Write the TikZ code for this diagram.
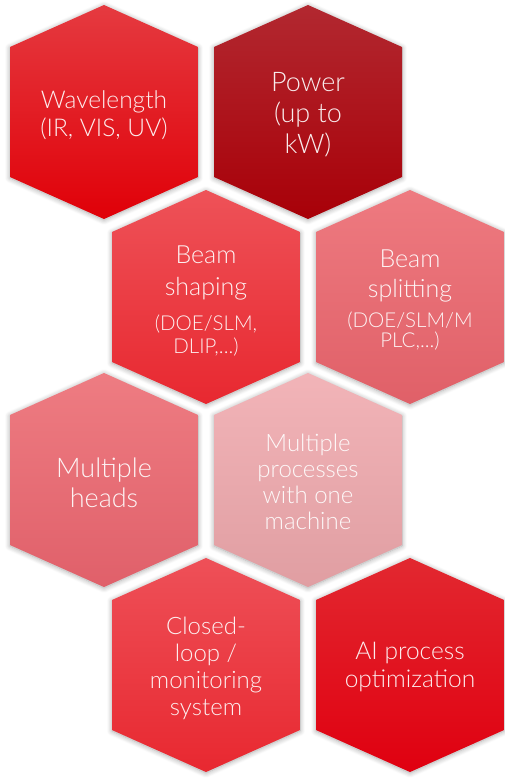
\documentclass[tikz,border=0pt]{standalone}
\usepackage{fontspec}
\setmainfont{Lato Light}
\usetikzlibrary{shadows.blur}
\definecolor{aT}{HTML}{E53A40}\definecolor{aB}{HTML}{E00008}
\definecolor{bT}{HTML}{B22830}\definecolor{bB}{HTML}{A80008}
\definecolor{cT}{HTML}{EE5258}\definecolor{cB}{HTML}{E82830}
\definecolor{dT}{HTML}{EE7A80}\definecolor{dB}{HTML}{E06068}
\definecolor{eT}{HTML}{EE7C82}\definecolor{eB}{HTML}{E0606A}
\definecolor{fT}{HTML}{F2B4B8}\definecolor{fB}{HTML}{E09EA2}
\definecolor{gT}{HTML}{EE5058}\definecolor{gB}{HTML}{E82830}
\definecolor{hT}{HTML}{E22830}\definecolor{hB}{HTML}{E00010}
\newcommand\hexa[4]{%
  \path[hexshadow, top color=#3, bottom color=#4]
    (#1,#2) ++(0,-107) -- ++(94,42) -- ++(0,130) -- ++(-94,42)
    -- ++(-94,-42) -- ++(0,-130) -- cycle;}
\tikzset{
  hexshadow/.style={blur shadow={shadow xshift=0pt, shadow yshift=-1pt,
      shadow blur radius=5pt, shadow opacity=35, shadow blur steps=8}},
  hextext/.style={text=white, text opacity=0.92, align=center, inner sep=0pt,
      font=\fontsize{24.5}{28}\selectfont},
  small/.style={text=white, text opacity=0.92, align=center, inner sep=0pt,
      font=\fontsize{20.5}{23}\selectfont}
}
\begin{document}
\begin{tikzpicture}[x=1pt, y=-1pt]
\useasboundingbox (0,0) rectangle (505,779);
\hexa{104}{112}{aT}{aB}
\hexa{308}{112}{bT}{bB}
\hexa{206}{297}{cT}{cB}
\hexa{410}{297}{dT}{dB}
\hexa{104}{480}{eT}{eB}
\hexa{308}{480}{fT}{fB}
\hexa{206}{665}{gT}{gB}
\hexa{410}{665}{hT}{hB}
\node[hextext] (wl) at (104,115) {Wavelength\\(IR, VIS, UV)};
\node[hextext, font=\fontsize{27}{31}\selectfont] (pw) at (308,115) {Power\\(up to\\kW)};
\node[hextext, font=\fontsize{25}{32}\selectfont] (bs) at (206,273) {Beam\\shaping};
\node[small] (bsx) at (206,336) {(DOE/SLM,\\DLIP,...)};
\node[hextext, font=\fontsize{25}{30}\selectfont] (bp) at (410,276) {Beam\\splitting};
\node[small, font=\fontsize{20.5}{20.5}\selectfont] (bpx) at (410,331) {(DOE/SLM/M\\PLC,...)};
\node[hextext, font=\fontsize{27}{30}\selectfont] (mh) at (104,483) {Multiple\\heads};
\node[hextext, font=\fontsize{24}{26}\selectfont] (mp) at (308,482) {Multiple\\processes\\with one\\machine};
\node[hextext, font=\fontsize{24}{27}\selectfont] (cl) at (206,668) {Closed-\\loop /\\monitoring\\system};
\node[hextext] (ai) at (410,667) {AI process\\optimization};
\end{tikzpicture}
\end{document}
